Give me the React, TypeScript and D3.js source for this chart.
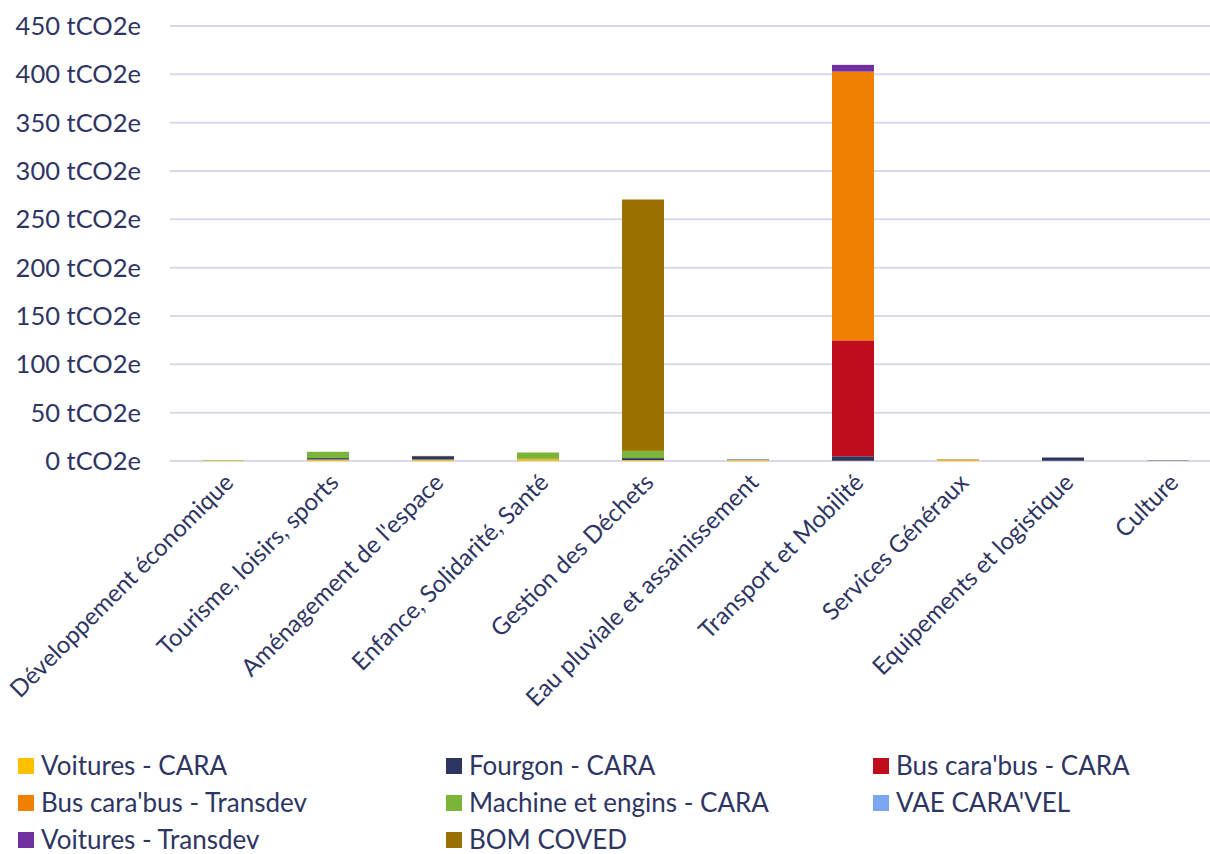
import * as d3 from "d3"
import { useEffect, useRef } from "react"

const categories = [
    "Développement économique",
    "Tourisme, loisirs, sports",
    "Aménagement de l'espace",
    "Enfance, Solidarité, Santé",
    "Gestion des Déchets",
    "Eau pluviale et assainissement",
    "Transport et Mobilité",
    "Services Généraux",
    "Equipements et logistique",
    "Culture",
]

const seriesNames = [
    "Voitures - CARA",
    "Fourgon - CARA",
    "Bus cara'bus - CARA",
    "Bus cara'bus - Transdev",
    "Machine et engins - CARA",
    "VAE CARA'VEL",
    "Voitures - Transdev",
    "BOM COVED",
]

const seriesColors = ["#FFC000", "#2E3563", "#C00D1E", "#F08000", "#7AB53A", "#7BA7F0", "#7030A0", "#9A7000"]

const voituresCara = [0.6, 1.5, 1.5, 2, 1, 1, 0.3, 1.5, 0.3, 0.2]
const fourgonCara = [0, 1.5, 3.5, 0.3, 2, 0.5, 4.5, 0.3, 3.3, 0.3]
const busCara = [0, 0, 0, 0, 0, 0, 120, 0, 0, 0]
const busTransdev = [0, 0, 0, 0, 0, 0, 278, 0, 0, 0]
const machineCara = [0.3, 6.5, 0.3, 6.5, 7.5, 0, 0, 0, 0, 0]
const vaeCaravel = [0, 0, 0, 0, 0, 0, 0, 0, 0, 0]
const voituresTransdev = [0, 0, 0, 0, 0, 0, 7, 0, 0, 0]
const bomCoved = [0, 0, 0, 0, 260, 0, 0, 0, 0, 0]

const yTicks = [0, 50, 100, 150, 200, 250, 300, 350, 400, 450]

export default function App() {
    const svgRef = useRef<SVGSVGElement>(null)

    useEffect(() => {
        document.body.style.margin = "0"
        const width = 1210
        const height = 854
        const textColor = "#2E3563"
        const font = "Lato, 'Open Sans', sans-serif"

        const seriesValues = [voituresCara, fourgonCara, busCara, busTransdev, machineCara, vaeCaravel, voituresTransdev, bomCoved]
        const table = categories.map((c, i) => {
            const row: Record<string, any> = { category: c }
            seriesNames.forEach((s, j) => { row[s] = seriesValues[j][i] })
            return row
        })
        const stacked = d3.stack().keys(seriesNames)(table as any)

        const xScale = d3.scaleBand(categories, [170.5, 1220.5]).paddingInner(0.6).paddingOuter(0.3)
        const yScale = d3.scaleLinear([0, 450], [461, 26])

        if (svgRef.current !== null) {
            svgRef.current.innerHTML = ""
        }

        const svg = d3.select(svgRef.current)
            .attr("width", width)
            .attr("height", height)
            .attr("viewBox", [0, 0, width, height])
            .style("display", "block")
            .style("font-family", font)

        // grid
        svg.append("g")
            .selectAll()
            .data(yTicks)
            .join("line")
                .attr("x1", 170)
                .attr("x2", width)
                .attr("y1", d => yScale(d))
                .attr("y2", d => yScale(d))
                .attr("stroke", "#D9D9EC")
                .attr("stroke-width", 2)

        svg.append("g")
            .selectAll()
            .data(yTicks)
            .join("text")
                .attr("x", 141)
                .attr("y", d => yScale(d))
                .attr("dy", "0.35em")
                .attr("text-anchor", "end")
                .attr("fill", textColor)
                .attr("font-size", 25.5)
                .text(d => `${d} tCO2e`)

        // bars
        svg.append("g")
            .selectAll("g")
            .data(stacked)
            .join("g")
                .attr("fill", (_, i) => seriesColors[i])
            .selectAll("rect")
            .data(d => d)
            .join("rect")
                .attr("x", d => xScale((d.data as any).category)!)
                .attr("width", xScale.bandwidth())
                .attr("y", d => yScale(d[1]))
                .attr("height", d => Math.max(0, yScale(d[0]) - yScale(d[1])))

        // x labels
        svg.append("g")
            .selectAll()
            .data(categories)
            .join("text")
                .attr("transform", d => `translate(${xScale(d)! + xScale.bandwidth() / 2 + 12}, 484) rotate(-45)`)
                .attr("text-anchor", "end")
                .attr("fill", textColor)
                .attr("font-size", 24)
                .text(d => d)

        // legend
        const legend = svg.append("g")
            .selectAll()
            .data(seriesNames)
            .join("g")
                .attr("transform", (_, i) => `translate(${[18, 446, 873][i % 3]}, ${[766, 803, 840][Math.floor(i / 3)]})`)
        legend.append("rect")
            .attr("x", 0)
            .attr("y", -8)
            .attr("width", 16)
            .attr("height", 16)
            .attr("fill", (_, i) => seriesColors[i])
        legend.append("text")
            .attr("x", 23)
            .attr("dy", "0.35em")
            .attr("fill", textColor)
            .attr("font-size", 26)
            .text(d => d)
    }, [])

    return <>
        <svg ref={svgRef}></svg>
    </>
}
